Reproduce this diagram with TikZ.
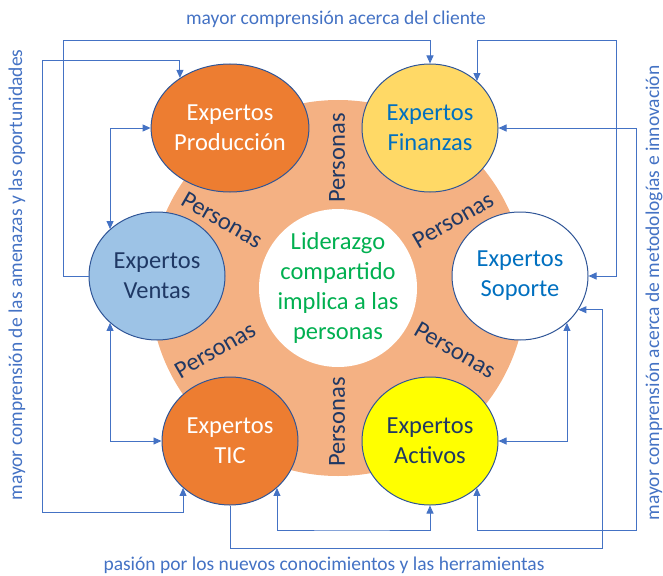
\documentclass[tikz,border=0pt]{standalone}
\usepackage{fontspec}
\setmainfont{Carlito}
\usepackage{tikz}
\usetikzlibrary{arrows,arrows.meta,shapes,calc,backgrounds}
\usetikzlibrary{positioning}
\definecolor{anillo}{HTML}{F4B183}
\definecolor{naranja}{HTML}{ED7D31}
\definecolor{oro}{HTML}{FFD966}
\definecolor{celeste}{HTML}{9DC3E6}
\definecolor{amarillo}{HTML}{FFFF00}
\definecolor{borde}{HTML}{2F5597}
\definecolor{enlace}{HTML}{4472C4}
\definecolor{marino}{HTML}{1F3864}
\definecolor{azul}{HTML}{0070C0}
\definecolor{verde}{HTML}{00B050}
\tikzset{
    experto/.style={
           ellipse,
           draw=borde, line width=1pt,
           minimum width=136pt,
           minimum height=128pt,
           inner sep=0pt,
           align=center,
           font=\fontsize{24.5}{30}\selectfont,
           },
    pil/.style={
           draw=enlace,
           line width=0.9pt,
           },
    persona/.style={
           text=marino,
           inner sep=0pt,
           font=\fontsize{24.5}{30}\selectfont,
           },
    nota/.style={
           text=enlace,
           inner sep=0pt,
           font=\fontsize{19.5}{24}\selectfont,
           }
}

\begin{document}
\begin{tikzpicture}[x=1pt,y=-1pt,>={Triangle[length=8pt,width=7pt]}]
\useasboundingbox (0,0) rectangle (663,575);
% anillo central
\fill[anillo] (338,288) circle (188pt);
\fill[white] (338,288) circle (79pt);
\node[align=center, text=verde, font=\fontsize{24.5}{30}\selectfont] (lid) at (338,288) {Liderazgo\\compartido\\implica a las\\personas};
% personas
\node[persona, rotate=90] (p1) at (337,158) {Personas};
\node[persona, rotate=-30] (p2) at (222,220) {Personas};
\node[persona, rotate=30] (p3) at (453,220) {Personas};
\node[persona, rotate=30] (p4) at (215,350) {Personas};
\node[persona, rotate=-30] (p5) at (455,350) {Personas};
\node[persona, rotate=90] (p6) at (337,422) {Personas};
% expertos
\node[experto, fill=naranja, text=white] (prod) at (230,128) {Expertos\\Producción};
\node[experto, fill=oro, text=azul] (fin) at (430,128) {Expertos\\Finanzas};
\node[experto, fill=celeste, text=marino] (ven) at (157,276) {Expertos\\Ventas};
\node[experto, fill=white, text=azul] (sop) at (520,276) {Expertos\\Soporte};
\node[experto, fill=naranja, text=white] (tic) at (230,441) {Expertos\\TIC};
\node[experto, fill=amarillo, text=marino] (act) at (430,441) {Expertos\\Activos};
% notas
\node[nota] (arriba) at (336,19) {mayor comprensión acerca del cliente};
\node[nota, rotate=90] (izq) at (17,275) {mayor comprensión de las amenazas y las oportunidades};
\node[nota, rotate=90] (der) at (654,293) {mayor comprensión acerca de metodologías e innovación};
\node[nota] (abajo) at (324,565) {pasión por los nuevos conocimientos y las herramientas};
% enlaces
\draw[pil, ->] (ven.west) -| (63,40) -| (fin.north);
\draw[pil, <->] (fin.45) |- (616,40) |- (sop.east);
\draw[pil, <->] (prod.135) |- (42,60) -- (42,512) -| (tic.225);
\draw[pil, <->] (prod.west) -| (ven.135);
\draw[pil, <->] (ven.225) |- (tic.west);
\draw[pil, <->] (fin.east) -| (636,530) -| (act.-45);
\draw[pil, <->] (sop.-45) |- (act.east);
\draw[pil, <->] (tic.-45) |- (350,530) -| (act.south);
\draw[pil, ->] (tic.south) |- (602,548) |- (sop.-30);
\end{tikzpicture}
\end{document}
